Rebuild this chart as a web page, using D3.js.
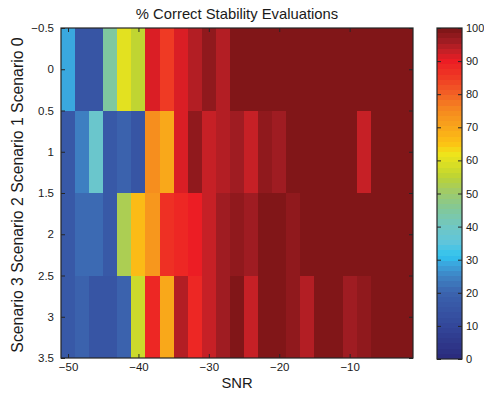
<!DOCTYPE html>
<html>
<head>
<meta charset="utf-8">
<script src="https://cdn.jsdelivr.net/npm/d3@7"></script>
<style>
  html, body { margin: 0; padding: 0; background: #ffffff; }
  svg text { font-family: "Liberation Sans", Arial, Helvetica, sans-serif; fill: #1a1a1a; }
</style>
</head>
<body>
<svg id="chart" width="484" height="395"></svg>
<script>
// SNR bins (dB), one column per bin
const snr = d3.range(-50, 0, 2);
const scenarios = [0, 1, 2, 3];

// % correct stability evaluations per scenario, one value per SNR bin
const scenario0 = [29, 15, 15, 45, 60, 55, 92, 85, 92, 94, 97, 95, 100, 100, 100, 100, 100, 100, 100, 100, 100, 100, 100, 100, 100];
const scenario1 = [17, 24, 38, 17, 20, 15, 74, 70, 92, 97, 93, 95, 96, 93, 98, 96, 100, 100, 100, 100, 100, 93, 100, 100, 100];
const scenario2 = [17, 21, 21, 17, 52, 66, 73, 86, 89, 90, 93, 96, 98, 96, 100, 100, 98, 100, 100, 100, 100, 100, 100, 100, 100];
const scenario3 = [17, 19, 15, 15, 19, 57, 88, 69, 95, 89, 93, 96, 100, 93, 100, 100, 98, 95, 100, 100, 96, 98, 100, 100, 100];
const values = [scenario0, scenario1, scenario2, scenario3];

const xTicks = [-50, -40, -30, -20, -10];
const yTicks = [-0.5, 0, 0.5, 1, 1.5, 2, 2.5, 3, 3.5];
const cbTicks = [0, 10, 20, 30, 40, 50, 60, 70, 80, 90, 100];

const title = "% Correct Stability Evaluations";
const xLabel = "SNR";
const yLabel = "Scenario 3 Scenario 2 Scenario 1 Scenario 0";

// colour map stops (value -> colour), sampled into 64 discrete levels
const cmapStops = [0, 10, 20, 25, 29, 31, 35, 40, 45, 50, 55, 58, 62, 65, 70, 75, 80, 85, 90, 93, 96, 100];
const cmapColors = ["#2a2a7c", "#33479a", "#3b63ae", "#3e84c5", "#3aa9e0", "#2fc3ef", "#5ec5dc", "#70c7c4",
                    "#80c89b", "#9dca6e", "#bcd334", "#d4dd27", "#f0e41a", "#fcc314", "#f9a51b", "#f68a1f",
                    "#f26125", "#ef3b24", "#ec1c24", "#c62026", "#a01c22", "#7a1416"];

const svg = d3.select("#chart");
const plot = { left: 61, right: 413, top: 28, bottom: 358 };
const cb = { left: 437, right: 462, top: 28, bottom: 359 };
const axisColor = "#262626";

const cont = d3.scaleLinear().domain(cmapStops).range(cmapColors).interpolate(d3.interpolateRgb);
const nLevels = 64;
const levelColor = v => {
  const k = Math.min(nLevels - 1, Math.max(0, Math.floor(v / 100 * nLevels)));
  return cont((k + 0.5) / nLevels * 100);
};

const x = d3.scaleLinear().domain([-51, -1]).range([plot.left, plot.right]);
const y = d3.scaleLinear().domain([-0.5, 3.5]).range([plot.top, plot.bottom]);

// heatmap cells, snapped to whole pixels so neighbouring cells meet without seams
const cells = [];
scenarios.forEach((s, i) => snr.forEach((v, j) => cells.push({ s, snr: v, val: values[i][j] })));
svg.append("g").attr("shape-rendering", "crispEdges")
  .selectAll("rect").data(cells).join("rect")
  .attr("x", d => Math.round(x(d.snr - 1)))
  .attr("y", d => Math.round(y(d.s - 0.5)))
  .attr("width", d => Math.round(x(d.snr + 1)) - Math.round(x(d.snr - 1)))
  .attr("height", d => Math.round(y(d.s + 0.5)) - Math.round(y(d.s - 0.5)))
  .attr("fill", d => levelColor(d.val));

// axes with inward ticks on all four sides
const tickLen = 4;
const fmt = v => (v < 0 ? "\u2212" + Math.abs(v) : String(v));

const gx = svg.append("g").attr("transform", `translate(0,${plot.bottom})`)
  .call(d3.axisBottom(x).tickValues(xTicks).tickSizeInner(-tickLen).tickSizeOuter(0).tickPadding(8).tickFormat(fmt));
const gxTop = svg.append("g").attr("transform", `translate(0,${plot.top})`)
  .call(d3.axisTop(x).tickValues(xTicks).tickSizeInner(-tickLen).tickSizeOuter(0).tickFormat(""));
const gy = svg.append("g").attr("transform", `translate(${plot.left},0)`)
  .call(d3.axisLeft(y).tickValues(yTicks).tickSizeInner(-tickLen).tickSizeOuter(0).tickPadding(7).tickFormat(fmt));
const gyR = svg.append("g").attr("transform", `translate(${plot.right},0)`)
  .call(d3.axisRight(y).tickValues(yTicks).tickSizeInner(-tickLen).tickSizeOuter(0).tickFormat(""));

[gx, gxTop, gy, gyR].forEach(g => {
  g.select(".domain").remove();
  g.selectAll("line").attr("stroke", axisColor).attr("stroke-width", 1);
  g.selectAll("text").attr("font-size", 11.5).attr("fill", "#1a1a1a")
    .style("font-family", '"Liberation Sans", Arial, sans-serif');
});
gx.selectAll("text").attr("dy", "0.45em");

svg.append("rect")
  .attr("x", plot.left).attr("y", plot.top)
  .attr("width", plot.right - plot.left).attr("height", plot.bottom - plot.top)
  .attr("fill", "none").attr("stroke", axisColor).attr("stroke-width", 1.2);

// title and axis labels
svg.append("text").attr("x", (plot.left + plot.right) / 2).attr("y", 19)
  .attr("text-anchor", "middle").attr("font-size", 14.8).text(title);
svg.append("text").attr("x", (plot.left + plot.right) / 2).attr("y", 388)
  .attr("text-anchor", "middle").attr("font-size", 14.8).text(xLabel);
svg.append("text")
  .attr("transform", `translate(23,${(plot.top + plot.bottom) / 2 + 2}) rotate(-90)`)
  .attr("text-anchor", "middle").attr("font-size", 15.8).text(yLabel);

// colour bar: one band per colour level
const cbY = d3.scaleLinear().domain([0, 100]).range([cb.bottom, cb.top]);
const levels = d3.range(nLevels);
svg.append("g").attr("shape-rendering", "crispEdges")
  .selectAll("rect").data(levels).join("rect")
  .attr("x", cb.left)
  .attr("y", k => Math.round(cbY((k + 1) / nLevels * 100)))
  .attr("width", cb.right - cb.left)
  .attr("height", k => Math.round(cbY(k / nLevels * 100)) - Math.round(cbY((k + 1) / nLevels * 100)))
  .attr("fill", k => levelColor((k + 0.5) / nLevels * 100));

const gcb = svg.append("g").attr("transform", `translate(${cb.right},0)`)
  .call(d3.axisRight(cbY).tickValues(cbTicks).tickSizeInner(-tickLen).tickSizeOuter(0).tickPadding(4));
const gcbL = svg.append("g").attr("transform", `translate(${cb.left},0)`)
  .call(d3.axisLeft(cbY).tickValues(cbTicks).tickSizeInner(-tickLen).tickSizeOuter(0).tickFormat(""));
[gcb, gcbL].forEach(g => {
  g.select(".domain").remove();
  g.selectAll("line").attr("stroke", axisColor).attr("stroke-width", 1);
  g.selectAll("text").attr("font-size", 11).attr("fill", "#1a1a1a").attr("text-anchor", "start")
    .style("font-family", '"Liberation Sans", Arial, sans-serif');
});
svg.append("rect")
  .attr("x", cb.left).attr("y", cb.top)
  .attr("width", cb.right - cb.left).attr("height", cb.bottom - cb.top)
  .attr("fill", "none").attr("stroke", axisColor).attr("stroke-width", 1.2);
</script>
</body>
</html>
